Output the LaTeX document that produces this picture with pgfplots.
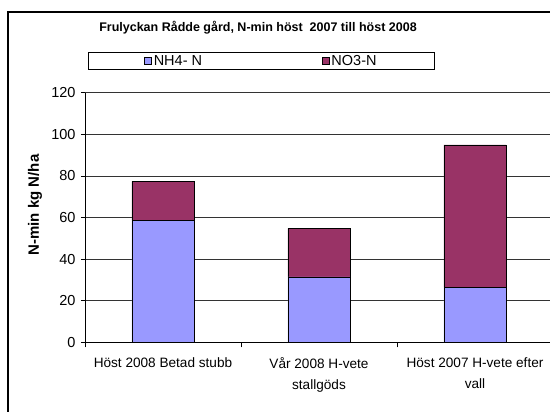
\documentclass[border=0pt]{standalone}
\usepackage{pgfplots}
\pgfplotsset{compat=1.18}
\usepackage{fontspec}
\setmainfont{Liberation Sans}
\definecolor{nhc}{HTML}{9999FF}
\definecolor{noc}{HTML}{993366}
\begin{document}
\begin{tikzpicture}
\useasboundingbox (0pt,0pt) rectangle (550pt,412pt);
\node[font=\bfseries\fontsize{12.5}{14}\selectfont] at (258pt,384pt) {Frulyckan Rådde gård, N-min höst\ \ 2007 till höst 2008};
\begin{axis}[
  at={(85pt,69.7pt)}, anchor=south west,
  scale only axis, width=468pt, height=249.6pt,
  ybar stacked, bar width=0.4,
  xmin=-0.5, xmax=2.5, ymin=0, ymax=120,
  ytick={0,20,...,120},
  xtick={0,1,2},
  xticklabels={Höst 2008 Betad stubb, {Vår 2008 H-vete\\stallgöds}, {Höst 2007 H-vete efter\\vall}},
  x tick label style={align=center, font=\fontsize{13.6}{21}\selectfont, yshift=-8pt},
  y tick label style={font=\fontsize{14.5}{15}\selectfont, xshift=-2pt},
  /pgf/number format/assume math mode=true,
  major x tick style={draw=none},
  minor xtick={-0.5,0.5,1.5,2.5},
  minor x tick style={black, thin},
  minor tick length=5pt,
  tick align=outside,
  major tick length=4pt,
  ytick style={black, thin},
  xtick pos=bottom, ytick pos=left,
  axis x line*=bottom, axis y line*=left,
  axis line style={black, thin, -},
  ymajorgrids, grid style={black!80, thin},
  ylabel={N-min kg N/ha},
  every axis y label/.style={at={(axis description cs:-0.1068,0.55)}, rotate=90, anchor=center, font=\bfseries\fontsize{15}{17}\selectfont},
  legend columns=2,
  legend style={at={(axis description cs:0.3771,1.127)}, anchor=center, draw=black, thin,
    font=\fontsize{14.5}{16}\selectfont, inner xsep=56pt, inner ysep=0.5pt,
    /tikz/every even column/.append style={column sep=118pt}},
  legend image code/.code={\draw[#1, draw=black, thin] (0pt,-3.5pt) rectangle (7pt,3.5pt);},
]
\addplot[fill=nhc, draw=black, thin] coordinates {(0,58.5) (1,31.5) (2,26.4)};
\addplot[fill=noc, draw=black, thin] coordinates {(0,18.9) (1,23.3) (2,68.5)};
\legend{NH4- N, NO3-N}
\end{axis}
\fill[black] (7.3pt,0pt) rectangle (8.7pt,401pt);
\fill[black] (7.3pt,399.4pt) rectangle (550pt,401pt);
\end{tikzpicture}
\end{document}
